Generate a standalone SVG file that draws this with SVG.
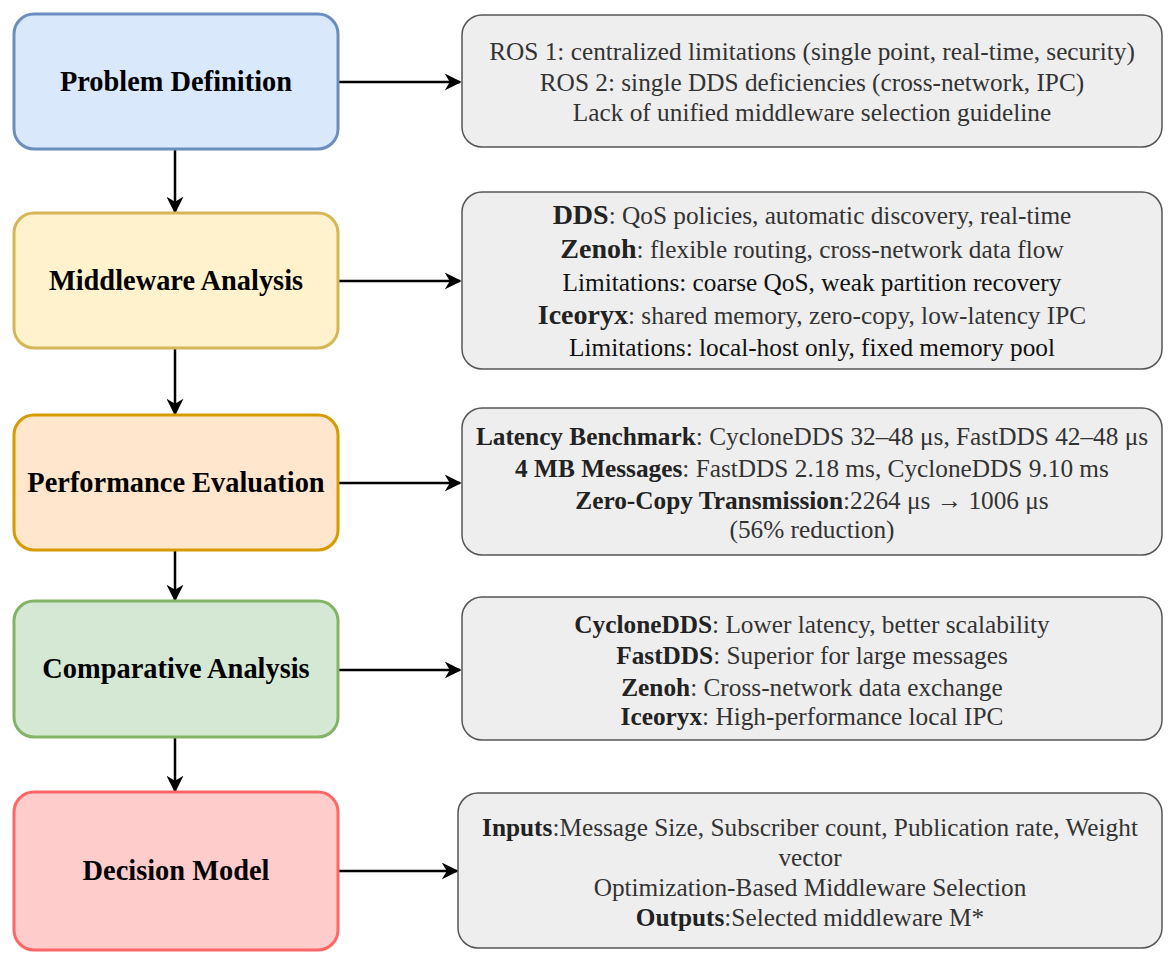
<svg xmlns="http://www.w3.org/2000/svg" width="1174" height="963" viewBox="0 0 1174 963">
<style>
.lb{stroke-width:3}
.title{font-family:"Liberation Serif","Times New Roman",serif;font-weight:bold;font-size:28.4px;fill:#000;text-anchor:middle}
.rb{fill:#eeeeee;stroke:#555555;stroke-width:1.5}
.t{font-family:"Liberation Serif","Times New Roman",serif;font-size:25.3px;fill:#333333;text-anchor:middle}
.b{font-weight:bold;fill:#222222}
.big{font-size:28px}
.dk{fill:#111111}
.c{stroke:#000;stroke-width:2.5;fill:none;marker-end:url(#ah)}
</style>
<defs>
<marker id="ah" viewBox="0 0 10 10" refX="9" refY="5" markerWidth="17" markerHeight="17" markerUnits="userSpaceOnUse" orient="auto">
<path d="M0,0 L10,5 L0,10 L3,5 Z" fill="#000"/>
</marker>
</defs>
<rect width="1174" height="963" fill="#ffffff"/>
<g id="connectors">
<path class="c" d="M338,82 L460,82"/>
<path class="c" d="M338,281 L460,281"/>
<path class="c" d="M338,483 L460,483"/>
<path class="c" d="M338,670 L460,670"/>
<path class="c" d="M338,871 L457,871"/>
<path class="c" d="M175,150 L175,212"/>
<path class="c" d="M175,349 L175,414"/>
<path class="c" d="M175,551 L175,600"/>
<path class="c" d="M175,738 L175,791"/>
</g>
<g id="n1">
<rect class="lb" x="14" y="14" width="324" height="135" rx="20" fill="#dae8fc" stroke="#6c8ebf"/>
<text class="title" x="176" y="91">Problem Definition</text>
</g>
<g id="n2">
<rect class="lb" x="14" y="213" width="324" height="135" rx="20" fill="#fff2cc" stroke="#d6b656"/>
<text class="title" x="176" y="290">Middleware Analysis</text>
</g>
<g id="n3">
<rect class="lb" x="14" y="415" width="324" height="135" rx="20" fill="#ffe6cc" stroke="#d79b00"/>
<text class="title" x="176" y="492">Performance Evaluation</text>
</g>
<g id="n4">
<rect class="lb" x="14" y="601" width="324" height="136" rx="20" fill="#d5e8d4" stroke="#82b366"/>
<text class="title" x="176" y="678">Comparative Analysis</text>
</g>
<g id="n5">
<rect class="lb" x="14" y="792" width="324" height="158" rx="20" fill="#ffcccc" stroke="#ff6666"/>
<text class="title" x="176" y="880">Decision Model</text>
</g>
<g id="d1">
<rect class="rb" x="462" y="15" width="700" height="132" rx="20"/>
<text class="t" x="812" y="60">ROS 1: centralized limitations (single point, real-time, security)</text>
<text class="t" x="812" y="91">ROS 2: single DDS deficiencies (cross-network, IPC)</text>
<text class="t" x="812" y="121">Lack of unified middleware selection guideline</text>
</g>
<g id="d2">
<rect class="rb" x="462" y="192" width="700" height="177" rx="20"/>
<text class="t" x="812" y="224"><tspan class="b big">DDS</tspan>: QoS policies, automatic discovery, real-time</text>
<text class="t" x="812" y="258"><tspan class="b big">Zenoh</tspan>: flexible routing, cross-network data flow</text>
<text class="t dk" x="812" y="291">Limitations: coarse QoS, weak partition recovery</text>
<text class="t" x="812" y="324"><tspan class="b big">Iceoryx</tspan>: shared memory, zero-copy, low-latency IPC</text>
<text class="t dk" x="812" y="356">Limitations: local-host only, fixed memory pool</text>
</g>
<g id="d3">
<rect class="rb" x="462" y="408" width="700" height="147" rx="20"/>
<text class="t" x="812" y="445"><tspan class="b">Latency Benchmark</tspan>: CycloneDDS 32–48 μs, FastDDS 42–48 μs</text>
<text class="t" x="812" y="477"><tspan class="b">4 MB Messages</tspan>: FastDDS 2.18 ms, CycloneDDS 9.10 ms</text>
<text class="t" x="812" y="509"><tspan class="b">Zero-Copy Transmission</tspan>:2264 μs → 1006 μs</text>
<text class="t" x="812" y="538">(56% reduction)</text>
</g>
<g id="d4">
<rect class="rb" x="462" y="597" width="700" height="143" rx="20"/>
<text class="t" x="812" y="633"><tspan class="b">CycloneDDS</tspan>: Lower latency, better scalability</text>
<text class="t" x="812" y="664"><tspan class="b">FastDDS</tspan>: Superior for large messages</text>
<text class="t" x="812" y="696"><tspan class="b">Zenoh</tspan>: Cross-network data exchange</text>
<text class="t" x="812" y="725"><tspan class="b">Iceoryx</tspan>: High-performance local IPC</text>
</g>
<g id="d5">
<rect class="rb" x="458" y="793" width="704" height="155" rx="20"/>
<text class="t" x="810" y="836"><tspan class="b">Inputs</tspan>:Message Size, Subscriber count, Publication rate, Weight</text>
<text class="t" x="810" y="866">vector</text>
<text class="t" x="810" y="896">Optimization-Based Middleware Selection</text>
<text class="t" x="810" y="926"><tspan class="b">Outputs</tspan>:Selected middleware M*</text>
</g>
</svg>
